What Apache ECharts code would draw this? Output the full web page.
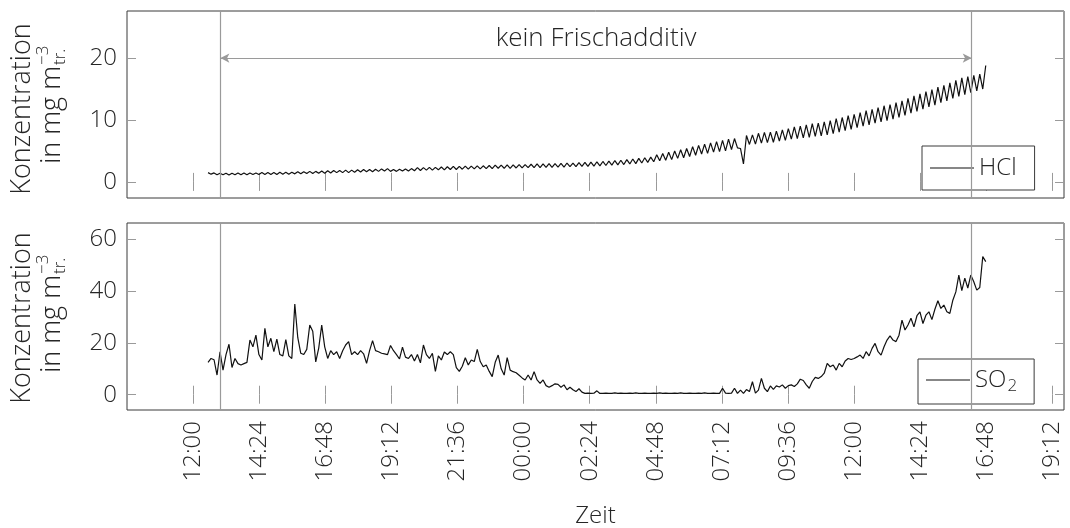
<!DOCTYPE html>
<html>
<head>
<meta charset="utf-8">
<script src="https://cdn.jsdelivr.net/npm/echarts@6/dist/echarts.min.js"></script>
<style>
html,body{margin:0;padding:0;background:#fff;}
#chart{width:1070px;height:528px;}
</style>
</head>
<body>
<div id="chart"></div>
<script>
// ---- data (time in hours from 00:00 of day 1; sampled on a regular grid) ----
const tStart = 12.543;      // first sample (≈12:33)
const tStep = 0.1086;       // sample spacing in hours
const phaseStart = 12.99;   // start of "kein Frischadditiv" (≈13:00)
const phaseEnd = 40.27;     // end (≈16:16 next day)
const phaseLevel = 20;      // arrow level in HCl panel

const hclValues = [
 1.5,1.25,1.45,1.15,1.4,1.15,1.4,1.1,1.4,1.15,
 1.45,1.15,1.45,1.15,1.45,1.2,1.45,1.2,1.5,1.2,
 1.5,1.2,1.5,1.2,1.55,1.25,1.55,1.25,1.55,1.3,
 1.65,1.3,1.65,1.35,1.7,1.35,1.7,1.4,1.75,1.4,
 1.8,1.45,1.85,1.5,1.85,1.5,1.9,1.5,1.9,1.55,
 1.95,1.6,2.0,1.65,2.0,1.65,2.05,1.7,2.1,1.75,
 2.15,1.7,2.0,1.7,2.05,1.75,2.1,1.75,2.15,1.8,
 2.3,1.85,2.3,1.9,2.35,1.9,2.35,1.95,2.4,1.95,
 2.45,2.0,2.5,2.0,2.5,2.05,2.55,2.05,2.55,2.1,
 2.6,2.1,2.6,2.15,2.65,2.15,2.7,2.2,2.7,2.2,
 2.75,2.2,2.75,2.25,2.8,2.25,2.8,2.3,2.85,2.3,
 2.9,2.3,2.9,2.35,2.95,2.35,2.95,2.4,3.0,2.4,
 3.05,2.45,3.05,2.45,3.1,2.5,3.15,2.5,3.2,2.55,
 3.25,2.6,3.3,2.65,3.35,2.7,3.45,2.75,3.5,2.8,
 3.6,2.9,3.7,2.95,3.8,3.05,3.9,3.15,4.0,3.25,
 4.4,3.4,4.6,3.5,4.8,3.6,5.0,3.8,5.2,3.9,
 5.4,4.1,5.7,4.3,5.9,4.5,6.1,4.6,6.3,4.8,
 6.5,4.9,6.7,5.0,6.9,5.2,7.0,5.5,5.4,2.9,
 7.5,6.05,7.6,6.1,7.85,6.25,8.0,6.35,8.05,6.4,
 8.2,6.6,8.4,6.7,8.6,6.9,8.9,7.0,9.0,7.1,
 9.2,7.2,9.4,7.35,9.5,7.45,9.7,7.6,9.9,7.8,
 10.2,8.05,10.4,8.3,10.7,8.5,10.9,8.75,11.2,9.0,
 11.5,9.2,11.7,9.5,12.0,9.7,12.3,9.9,12.5,10.15,
 12.8,10.4,13.1,10.75,13.5,11.1,13.9,11.4,14.2,11.75,
 14.6,12.1,14.9,12.4,15.3,12.8,15.6,13.1,16.0,13.5,
 16.4,13.8,16.8,14.1,17.0,14.4,17.2,14.7,17.4,15.0,
 18.8
];

const so2Values = [
 12.5,14.0,13.5,7.6,16.6,9.5,15.5,19.5,10.5,14.0,
 12.0,11.5,12.0,12.5,21.1,18.5,23.0,15.5,13.4,25.6,
 18.5,21.8,16.6,21.5,15.5,15.0,21.3,15.0,14.0,35.0,
 22.0,16.0,15.5,17.5,26.9,24.5,12.7,18.0,26.9,18.5,
 14.0,17.0,15.5,16.6,14.0,17.0,19.2,20.5,15.5,16.6,
 15.5,17.0,15.8,12.1,17.0,20.9,17.0,16.6,16.0,15.8,
 15.5,19.0,17.0,15.5,13.8,18.4,14.5,14.0,15.5,13.0,
 15.5,12.3,19.2,15.5,14.0,16.0,9.0,15.0,13.4,16.5,
 15.5,16.6,15.5,10.5,9.0,11.0,14.3,11.5,13.4,12.8,
 17.5,12.8,10.8,11.5,9.0,7.0,12.5,15.3,10.0,7.6,
 14.3,9.5,8.9,8.5,7.5,6.5,5.7,7.6,5.7,8.9,
 5.7,4.4,5.7,3.5,2.9,3.5,4.2,4.0,2.9,3.8,
 1.9,2.9,1.9,1.2,2.3,1.0,0.5,0.6,0.5,0.6,
 1.5,0.5,0.5,0.6,0.5,0.5,0.7,0.5,0.6,0.5,
 0.5,0.6,0.5,0.7,0.5,0.5,0.6,0.5,0.5,0.6,
 0.5,0.7,0.5,0.6,0.5,0.5,0.6,0.5,0.7,0.5,
 0.5,0.6,0.5,0.5,0.6,0.5,0.7,0.5,0.5,0.6,
 0.5,0.5,2.5,0.6,0.5,0.6,2.5,0.5,1.8,0.5,
 2.0,1.2,5.0,0.6,1.8,6.3,2.5,1.2,3.4,2.1,
 3.4,3.0,3.8,2.5,3.5,3.8,3.2,4.2,6.0,5.5,
 3.8,2.5,5.1,6.7,6.3,7.0,8.3,12.1,10.8,11.5,
 9.5,12.1,10.8,13.0,14.0,13.6,14.0,14.6,15.3,14.0,
 16.6,15.0,17.9,19.8,16.6,15.3,18.5,21.1,22.7,21.1,
 20.5,23.0,28.8,25.0,26.9,29.5,26.2,30.5,32.0,27.5,
 30.7,32.0,29.0,33.0,36.3,33.3,34.6,32.0,31.4,36.5,
 39.7,46.2,40.2,45.0,41.2,46.2,43.6,40.4,41.4,53.3,51.4
];

const xTickStepH = 2.4;   // 2 h 24 min between x ticks
const hclYTicks = [0, 10, 20];
const so2YTicks = [0, 20, 40, 60];

// ---- build series data ----
const hclData = hclValues.map((v, i) => [tStart + i * tStep, v]);
const so2Data = so2Values.map((v, i) => [tStart + i * tStep, v]);

// ---- styling ----
const FONT = '"Open Sans", "Noto Sans", sans-serif';
const TXT = '#262626';
const TICK = '#9a9a9a';
const FS = 24;

function timeLabel(v) {
  const m = Math.round(v * 60);
  if (v < 11 || m % Math.round(xTickStepH * 60) !== 0) return '';
  const mm = ((m % 1440) + 1440) % 1440;
  const h = Math.floor(mm / 60), mi = mm % 60;
  return String(h).padStart(2, '0') + ':' + String(mi).padStart(2, '0');
}
function yLabel(ticks) {
  return v => {
    const t = ticks.find(t => Math.abs(t - v) < 1e-6);
    return t === undefined ? '' : String(t);
  };
}

const X_MIN = 9.6, X_MAX = 43.62;
const grids = [
  {left: 127, right: 6, top: 11, height: 187},
  {left: 127, right: 6, top: 223, height: 187}
];

function xAx(grid, pos, labels) {
  return {
    type: 'value', gridIndex: grid, position: pos, min: X_MIN, max: X_MAX, interval: xTickStepH,
    axisLine: {show: false},
    axisTick: {show: true, inside: true, length: 9, lineStyle: {color: TICK, width: 1}},
    splitLine: {show: false},
    axisLabel: labels ? {
      show: true, rotate: 90, margin: 11, formatter: timeLabel,
      color: TXT, fontSize: FS, fontFamily: FONT, fontWeight: 300
    } : {show: false},
    name: labels ? 'Zeit' : '',
    nameLocation: 'middle', nameGap: 94,
    nameTextStyle: {color: TXT, fontSize: FS, fontFamily: FONT, fontWeight: 300}
  };
}
function yAx(grid, pos, min, max, step, ticks, labels) {
  return {
    type: 'value', gridIndex: grid, position: pos, min: min, max: max,
    minInterval: step, maxInterval: step, splitNumber: Math.round((max - min) / step),
    axisLine: {show: false},
    axisTick: {show: true, inside: true, length: 9, lineStyle: {color: TICK, width: 1}},
    splitLine: {show: false},
    axisLabel: labels ? {
      show: true, margin: 10, formatter: yLabel(ticks), showMinLabel: false, showMaxLabel: false,
      color: TXT, fontSize: FS, fontFamily: FONT, fontWeight: 300
    } : {show: false}
  };
}

function yTitle(cy) {
  const f = (s) => '300 ' + s + 'px ' + FONT;
  return {
    type: 'group', x: 0, y: cy, rotation: Math.PI / 2, silent: true,
    children: [
      {type: 'text', x: 0, y: 22.5, style: {text: 'Konzentration', font: f(27), fill: TXT, align: 'center', verticalAlign: 'middle'}},
      {type: 'text', x: 43, y: 52, style: {text: 'in mg m', font: f(27), fill: TXT, align: 'right', verticalAlign: 'middle'}},
      {type: 'text', x: 44, y: 43, style: {text: '\u22123', font: f(17), fill: TXT, align: 'left', verticalAlign: 'middle'}},
      {type: 'text', x: 44, y: 60, style: {text: 'tr.', font: f(17), fill: TXT, align: 'left', verticalAlign: 'middle'}}
    ]
  };
}

const vLineStyle = {color: TICK, width: 1.2, type: 'solid'};

function legendBox(name, left, top, extra) {
  return Object.assign({
    data: [name], left: left, top: top, orient: 'horizontal',
    icon: 'rect', itemWidth: 44, itemHeight: 1.2, itemGap: 0,
    padding: [10, 18, 10, 8], borderColor: '#3a3a3a', borderWidth: 1, borderRadius: 0,
    backgroundColor: '#fff', selectedMode: false,
    textStyle: {color: TXT, fontSize: FS, fontFamily: FONT, fontWeight: 300}
  }, extra || {});
}

const option = {
  animation: false,
  backgroundColor: '#fff',
  grid: grids.map(g => Object.assign({
    show: true, borderColor: '#3a3a3a', borderWidth: 1, backgroundColor: 'transparent',
    containLabel: false, outerBoundsMode: 'none'
  }, g)),
  xAxis: [xAx(0, 'bottom', false), xAx(0, 'top', false), xAx(1, 'bottom', true), xAx(1, 'top', false)],
  yAxis: [
    yAx(0, 'left', -2.6, 27.6, 10, hclYTicks, true),
    yAx(0, 'right', -2.6, 27.6, 10, hclYTicks, false),
    yAx(1, 'left', -5.9, 66.3, 20, so2YTicks, true),
    yAx(1, 'right', -5.9, 66.3, 20, so2YTicks, false)
  ],
  legend: [
    legendBox('HCl', 922, 146),
    legendBox('SO2', 918, 359, {
      padding: [9, 17, 9, 8],
      formatter: () => '{a|SO}{b|2}',
      textStyle: {color: TXT, fontSize: FS, fontFamily: FONT, fontWeight: 300,
        rich: {
          a: {fontSize: FS, fontFamily: FONT, fontWeight: 300, color: TXT},
          b: {fontSize: 17, fontFamily: FONT, fontWeight: 300, color: TXT, padding: [13, 0, 0, 1]}
        }
      }
    })
  ],
  graphic: [yTitle(109), yTitle(318)],
  series: [
    {
      name: 'HCl', type: 'line', xAxisIndex: 0, yAxisIndex: 0, data: hclData,
      showSymbol: false, symbol: 'none', sampling: false,
      lineStyle: {color: '#111', width: 1.2}, itemStyle: {color: '#111'},
      z: 3,
      markLine: {
        silent: true, symbol: ['none', 'none'], animation: false,
        lineStyle: vLineStyle,
        label: {show: false},
        data: [
          {xAxis: phaseStart},
          {xAxis: phaseEnd},
          [
            {coord: [phaseStart, phaseLevel], symbol: 'arrow', symbolSize: [7, 9]},
            {coord: [phaseEnd, phaseLevel], symbol: 'arrow', symbolSize: [7, 9],
             label: {show: true, position: 'middle', distance: 6, formatter: 'kein Frischadditiv',
               color: TXT, fontSize: 26, fontFamily: FONT, fontWeight: 300}}
          ]
        ]
      }
    },
    {
      name: 'SO2', type: 'line', xAxisIndex: 2, yAxisIndex: 2, data: so2Data,
      showSymbol: false, symbol: 'none', sampling: false,
      lineStyle: {color: '#111', width: 1.2}, itemStyle: {color: '#111'},
      z: 3,
      markLine: {
        silent: true, symbol: ['none', 'none'], animation: false,
        lineStyle: vLineStyle,
        label: {show: false},
        data: [{xAxis: phaseStart}, {xAxis: phaseEnd}]
      }
    }
  ]
};

const chart = echarts.init(document.getElementById('chart'), null, {renderer: 'canvas'});
chart.setOption(option);
</script>
</body>
</html>
